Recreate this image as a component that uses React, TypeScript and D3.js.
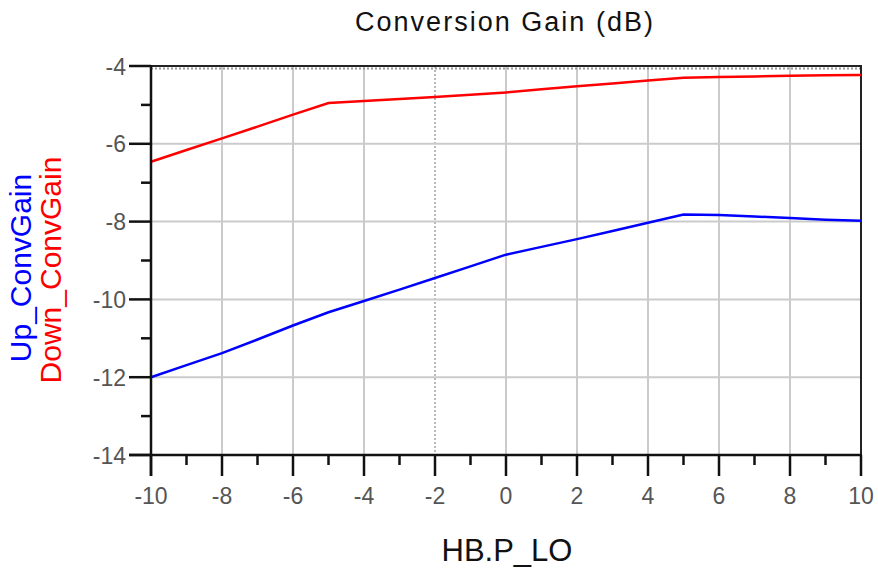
import React from 'react';
import * as d3 from 'd3';

const xValues = [-10, -9, -8, -7, -6, -5, -4, -3, -2, -1, 0, 1, 2, 3, 4, 5, 6, 7, 8, 9, 10];
const upConvGain = [-12.0, -11.69, -11.38, -11.03, -10.67, -10.33, -10.04, -9.75, -9.45, -9.15, -8.85, -8.65, -8.45, -8.24, -8.03, -7.82, -7.83, -7.87, -7.91, -7.95, -7.98];
const downConvGain = [-6.46, -6.16, -5.86, -5.56, -5.25, -4.95, -4.9, -4.85, -4.8, -4.74, -4.68, -4.6, -4.52, -4.45, -4.37, -4.3, -4.28, -4.27, -4.25, -4.24, -4.23];
const xMajorTicks = [-10, -8, -6, -4, -2, 0, 2, 4, 6, 8, 10];
const xMinorTicks = [-9, -7, -5, -3, -1, 1, 3, 5, 7, 9];
const yMajorTicks = [-4, -6, -8, -10, -12, -14];
const yMinorTicks = [-5, -7, -9, -11, -13];
const titleText = 'Conversion Gain (dB)';
const xAxisTitle = 'HB.P_LO';
const upLabel = 'Up_ConvGain';
const downLabel = 'Down_ConvGain';

const FONT = '"Liberation Sans", Arial, sans-serif';

export default function App() {
  const left = 151, right = 861, top = 66, bottom = 455;
  const x = d3.scaleLinear().domain([-10, 10]).range([left, right]);
  const y = d3.scaleLinear().domain([-14, -4]).range([bottom, top]);
  const line = d3.line<number>().x((_, i) => x(xValues[i])).y((d) => y(d));
  const gridColor = '#cbcbcb';

  return (
    <svg width={878} height={575} style={{ position: 'absolute', left: 0, top: 0, background: '#fff' }}>
      <rect x={0} y={0} width={878} height={575} fill="#fff" />
      {/* gridlines */}
      {xMajorTicks.filter((t) => t > -10 && t < 10).map((t) => (
        <line key={'gx' + t} x1={x(t)} x2={x(t)} y1={top} y2={bottom}
          stroke={t === -2 ? '#b8b8b8' : gridColor} strokeWidth={2} strokeDasharray={t === -2 ? '2,2' : undefined} />
      ))}
      {yMajorTicks.filter((t) => t > -14 && t < -4).map((t) => (
        <line key={'gy' + t} x1={left} x2={right} y1={y(t)} y2={y(t)} stroke={gridColor} strokeWidth={2} />
      ))}
      {/* top border with dotted line */}
      <line x1={left} x2={right} y1={top + 2.5} y2={top + 2.5} stroke="#999" strokeWidth={2} strokeDasharray="2,2" />
      <line x1={left} x2={right + 1} y1={top} y2={top} stroke="#222" strokeWidth={2} />
      <line x1={right} x2={right} y1={top} y2={bottom} stroke="#222" strokeWidth={2} />
      {/* series */}
      <path d={line(downConvGain) || ''} fill="none" stroke="#ff0000" strokeWidth={2.5} />
      <path d={line(upConvGain) || ''} fill="none" stroke="#0000ff" strokeWidth={2.5} />
      {/* axes */}
      <line x1={left} x2={left} y1={top - 1} y2={bottom + 21} stroke="#111" strokeWidth={2.5} />
      <line x1={left - 22} x2={right + 1} y1={bottom} y2={bottom} stroke="#111" strokeWidth={2.5} />
      {xMajorTicks.map((t) => (
        <line key={'xt' + t} x1={x(t)} x2={x(t)} y1={bottom} y2={bottom + 21} stroke="#111" strokeWidth={2.5} />
      ))}
      {xMinorTicks.map((t) => (
        <line key={'xm' + t} x1={x(t)} x2={x(t)} y1={bottom} y2={bottom + 10} stroke="#111" strokeWidth={2.5} />
      ))}
      {yMajorTicks.map((t) => (
        <line key={'yt' + t} x1={left - 22} x2={left} y1={y(t)} y2={y(t)} stroke="#111" strokeWidth={2.5} />
      ))}
      {yMinorTicks.map((t) => (
        <line key={'ym' + t} x1={left - 10} x2={left} y1={y(t)} y2={y(t)} stroke="#111" strokeWidth={2.5} />
      ))}
      {/* tick labels */}
      {xMajorTicks.map((t) => (
        <text key={'xl' + t} x={x(t)} y={bottom + 49} textAnchor="middle" fontFamily={FONT} fontSize={23} fill="#555">
          {t}
        </text>
      ))}
      {yMajorTicks.map((t) => (
        <text key={'yl' + t} x={left - 25} y={y(t) + 8.5} textAnchor="end" fontFamily={FONT} fontSize={23} fill="#555">
          {t}
        </text>
      ))}
      {/* titles */}
      <text x={504} y={31} textAnchor="middle" fontFamily={FONT} fontSize={27} fill="#111"
        textLength={298} lengthAdjust="spacing">
        {titleText}
      </text>
      <text x={507} y={561} textAnchor="middle" fontFamily={FONT} fontSize={31} fill="#111">
        {xAxisTitle}
      </text>
      <text transform={`translate(31, 268) rotate(-90)`} textAnchor="middle" fontFamily={FONT} fontSize={30} fill="#0000ff">
        {upLabel}
      </text>
      <text transform={`translate(61, 270) rotate(-90)`} textAnchor="middle" fontFamily={FONT} fontSize={30} fill="#ff0000">
        {downLabel}
      </text>
    </svg>
  );
}
